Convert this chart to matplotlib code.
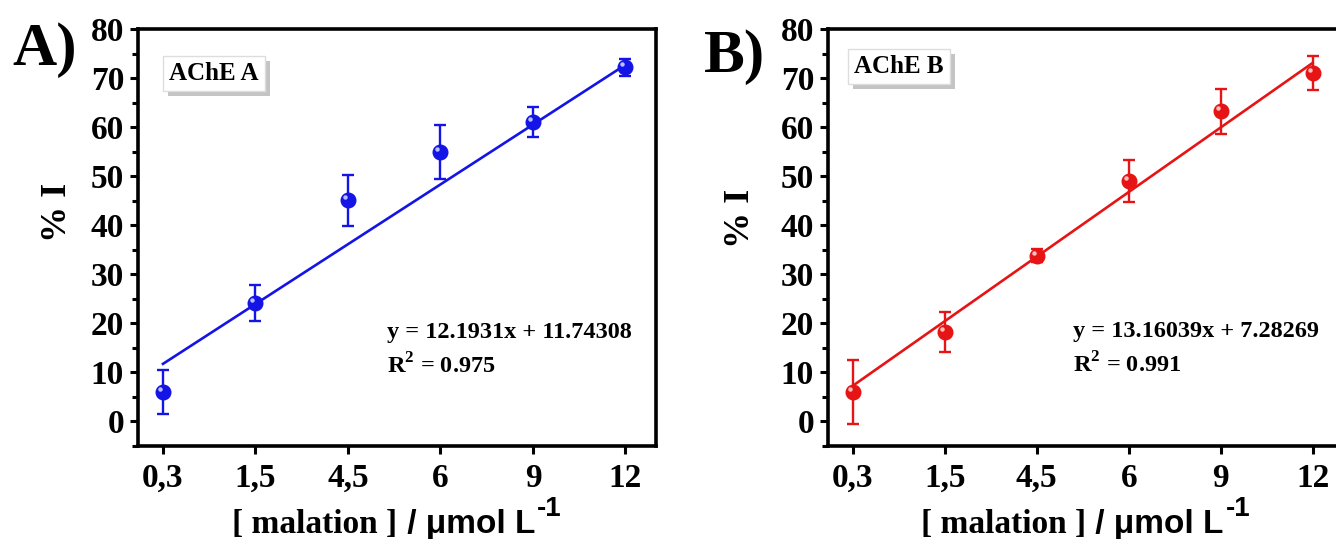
import numpy as np
import matplotlib
matplotlib.use("Agg")
import matplotlib.pyplot as plt
from matplotlib.patches import Rectangle
from matplotlib.transforms import ScaledTranslation

plt.rcParams['mathtext.fontset'] = 'custom'
plt.rcParams['mathtext.rm'] = 'Liberation Serif:bold'
plt.rcParams['mathtext.bf'] = 'Liberation Serif:bold'

SERIF = 'Liberation Serif'
SANS = 'Liberation Sans'

# data
conc_labels = ['0,3', '1,5', '4,5', '6', '9', '12']
inh_a = [6.0, 24.1, 45.1, 55.0, 61.0, 72.2]
err_a = [4.4, 3.7, 5.2, 5.5, 3.0, 1.7]
inh_b = [6.0, 18.3, 33.8, 49.0, 63.2, 71.0]
err_b = [6.5, 4.1, 1.3, 4.3, 4.6, 3.4]

slope_a, icpt_a, r2_a = 12.1931, 11.74308, 0.975
slope_b, icpt_b, r2_b = 13.16039, 7.28269, 0.991

fig = plt.figure(figsize=(13.36, 5.39), dpi=100)

W, H = 1336, 539
xlabel_parts = []
name_boxes = []


def panel(rect, vals, errs, slope, icpt, r2, color, hilite, name, letter,
          eq_txt, box_xy, eq_xy, ylab_xy, letter_xy):
    ax = fig.add_axes(rect)
    x = np.arange(len(conc_labels))
    xl = np.array([x[0], x[-1]])
    ax.plot(xl, slope * xl + icpt, color=color, lw=1.9, zorder=2)
    ax.errorbar(x, vals, yerr=errs, fmt='o', color=color, ms=10.5, mec=color,
                elinewidth=1.7, capsize=4.5, capthick=1.7, zorder=3)
    off = ax.transData + ScaledTranslation(-2.2 / 72, 2.2 / 72, fig.dpi_scale_trans)
    ax.plot(x, vals, 'o', ms=3.2, color=hilite, mec='none', transform=off, zorder=4)

    ax.set_xlim(-0.27, 5.33)
    ax.set_ylim(-5, 80)
    ax.set_xticks(x)
    ax.set_xticklabels(conc_labels)
    ax.set_yticks(np.arange(0, 81, 10))
    ax.set_yticks(np.arange(-5, 81, 5), minor=True)
    for s in ax.spines.values():
        s.set_linewidth(2.6)
    ax.tick_params(axis='both', which='major', direction='out', length=6,
                   width=2.2, labelsize=24)
    ax.tick_params(axis='y', which='minor', direction='out', length=4, width=2.2)
    ax.tick_params(axis='x', which='major', pad=6)
    ax.tick_params(axis='y', which='major', pad=4)
    for lab in ax.get_xticklabels() + ax.get_yticklabels():
        lab.set_fontfamily(SERIF)
        lab.set_fontweight('bold')

    # y label
    ax.text(ylab_xy[0], ylab_xy[1], '% I', transform=ax.transAxes, rotation=90,
            ha='center', va='center', fontsize=26, fontfamily=SERIF,
            fontweight='bold')

    # x label: serif part + sans part + superscript
    t1 = ax.text(0.1, -0.209, '[ malation ]', transform=ax.transAxes,
                 ha='left', va='baseline', fontsize=24, fontfamily=SERIF,
                 fontweight='bold')
    t2 = ax.annotate(' / μmol L', xy=(1, 0), xycoords=t1, xytext=(0, 0),
                     textcoords='offset points', ha='left', va='bottom',
                     fontsize=24, fontfamily=SANS, fontweight='bold')
    t3 = ax.annotate('-1', xy=(1, 0.6), xycoords=t2, xytext=(1.5, 0),
                     textcoords='offset points', ha='left', va='bottom',
                     fontsize=20, fontfamily=SANS, fontweight='bold')
    xlabel_parts.append((ax, t1, t3))

    # name box (shadow added after layout)
    nb = ax.annotate(name, xy=box_xy, xycoords='axes fraction', ha='center',
                     va='center', fontsize=18, fontfamily=SERIF,
                     fontweight='bold', color='black', zorder=6,
                     bbox=dict(boxstyle='square,pad=0.25', fc='white',
                               ec='#dddddd', lw=1))
    name_boxes.append((ax, nb))

    # equation
    ax.text(eq_xy[0], eq_xy[1], eq_txt, transform=ax.transAxes, ha='left',
            va='baseline', fontsize=17.5, fontfamily=SERIF, fontweight='bold')
    ax.text(eq_xy[0], eq_xy[1] - 0.085, r'R$^{2}$ = %.3f' % r2,
            transform=ax.transAxes, ha='left', va='baseline', fontsize=17.5,
            fontfamily=SERIF, fontweight='bold')

    fig.text(letter_xy[0], letter_xy[1], letter, ha='left', va='baseline',
             fontsize=44, fontfamily=SERIF, fontweight='bold')
    return ax


panel([138 / W, 93 / H, 518 / W, 417 / H], inh_a, err_a, slope_a, icpt_a, r2_a,
      '#1414e6', '#b8c0ff', 'AChE A', 'A)',
      'y = %.4fx + %.5f' % (slope_a, icpt_a),
      (0.147, 0.893), (0.48, 0.258), (-0.155, 0.56),
      (12 / W, 1 - 65 / H))

panel([828 / W, 93 / H, 515 / W, 417 / H], inh_b, err_b, slope_b, icpt_b, r2_b,
      '#e61414', '#ffc0c0', 'AChE B', 'B)',
      'y = %.5fx + %.5f' % (slope_b, icpt_b),
      (0.138, 0.91), (0.476, 0.262), (-0.17, 0.545),
      (704 / W, 1 - 72 / H))

# centre the composite x labels and add the box shadows
fig.canvas.draw()
r = fig.canvas.get_renderer()
for ax, t1, t3 in xlabel_parts:
    x0 = t1.get_window_extent(r).x0
    x1 = t3.get_window_extent(r).x1
    axb = ax.get_window_extent(r)
    shift = (axb.x0 + axb.x1) / 2 - (x0 + x1) / 2
    px, py = t1.get_position()
    t1.set_position((px + shift / axb.width, py))

for ax, nb in name_boxes:
    bb = nb.get_bbox_patch().get_window_extent(r)
    inv = ax.transAxes.inverted()
    (ax0, ay0), (ax1, ay1) = inv.transform([(bb.x0 + 5, bb.y0 - 5),
                                            (bb.x1 + 5, bb.y1 - 5)])
    ax.add_patch(Rectangle((ax0, ay0), ax1 - ax0, ay1 - ay0,
                           transform=ax.transAxes, fc='#c4c4c4', ec='none',
                           zorder=5))

fig.savefig('out.png', dpi=100)
